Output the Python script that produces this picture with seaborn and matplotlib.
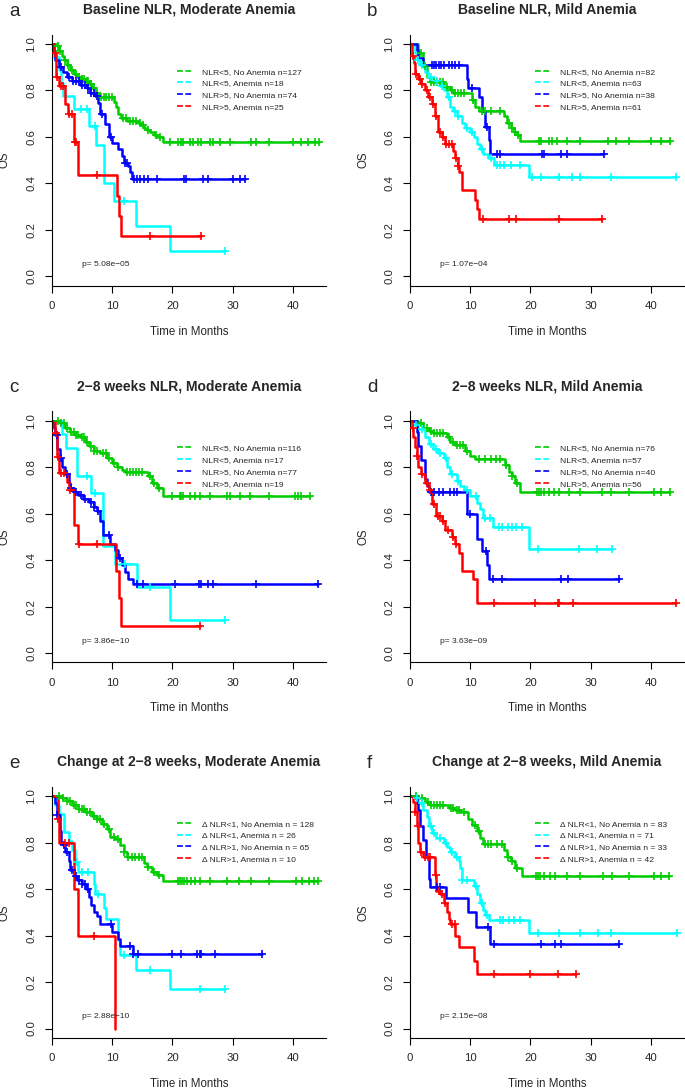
import numpy as np
import pandas as pd
import matplotlib
matplotlib.use("Agg")
import matplotlib.pyplot as plt
from matplotlib.lines import Line2D
import seaborn as sns

# Kaplan-Meier curves: step times (months), survival after each step, censor times.
# g = NLR low / no anemia, c = NLR low / anemia, b = NLR high / no anemia, r = NLR high / anemia

# --- a: Baseline NLR, Moderate Anemia
a_g_time = [0.8, 1.2, 1.6, 2.0, 2.5, 3.0, 3.6, 4.2, 4.8, 5.5, 6.2, 6.7, 7.2, 7.8, 10.3, 10.7, 11.0, 11.4, 12.5, 14.3, 14.8, 15.3, 15.8, 16.3, 17.0, 17.5, 18.5]
a_g_surv = [0.99, 0.97, 0.95, 0.93, 0.91, 0.89, 0.87, 0.86, 0.85, 0.84, 0.83, 0.81, 0.79, 0.77, 0.75, 0.73, 0.70, 0.68, 0.67, 0.66, 0.65, 0.64, 0.63, 0.62, 0.61, 0.60, 0.578]
a_g_cens = [1.0, 1.4, 2.2, 2.7, 3.3, 4.0, 4.5, 5.0, 5.3, 5.8, 6.0, 6.4, 7.0, 7.5, 8.2, 8.6, 9.0, 9.5, 10.0, 11.8, 12.3, 13.0, 13.5, 14.0, 14.6, 15.1, 16.0, 17.2, 18.0,
            19.6, 21.0, 21.4, 21.8, 22.9, 23.4, 24.3, 24.7, 26.2, 26.8, 27.9, 29.5, 33.1, 33.9, 36.1, 40.0, 41.4, 42.5, 43.6, 44.3]
a_c_time = [0.3, 1.1, 1.5, 1.9, 3.6, 6.2, 7.3, 8.6, 10.3, 14.0, 19.6]
a_c_surv = [0.944, 0.889, 0.833, 0.778, 0.722, 0.647, 0.565, 0.404, 0.323, 0.215, 0.108]
a_c_cens = [4.8, 5.8, 7.1, 12.0, 28.7]
a_b_time = [0.3, 0.5, 1.1, 1.9, 2.5, 3.3, 4.7, 5.8, 6.3, 7.2, 7.7, 8.0, 8.8, 9.4, 9.9, 11.0, 11.6, 12.0, 12.7, 13.0, 13.3]
a_b_surv = [0.97, 0.93, 0.90, 0.88, 0.86, 0.84, 0.825, 0.81, 0.79, 0.775, 0.747, 0.70, 0.654, 0.60, 0.575, 0.55, 0.52, 0.49, 0.475, 0.45, 0.418]
a_b_cens = [1.5, 2.8, 3.5, 4.0, 4.5, 5.0, 5.5, 6.0, 6.5, 7.0, 7.5, 8.3, 9.8, 12.2, 12.5, 13.6, 14.1, 14.6, 15.2, 16.0, 17.4, 22.0, 22.2, 25.1, 25.9, 30.1, 31.2, 32.0]
a_r_time = [0.4, 0.7, 1.1, 2.2, 2.6, 3.6, 4.3, 10.8, 11.2, 11.5]
a_r_surv = [0.96, 0.86, 0.82, 0.74, 0.70, 0.58, 0.435, 0.348, 0.26, 0.174]
a_r_cens = [0.5, 0.9, 1.5, 1.8, 2.9, 3.3, 3.8, 4.0, 7.5, 16.3, 24.8]

# --- b: Baseline NLR, Mild Anemia
b_g_time = [1.4, 2.2, 2.9, 3.3, 5.6, 6.7, 7.2, 10.3, 10.8, 11.4, 15.6, 16.1, 16.7, 17.2, 17.8, 18.3]
b_g_surv = [0.96, 0.904, 0.86, 0.835, 0.815, 0.80, 0.79, 0.76, 0.73, 0.71, 0.69, 0.66, 0.64, 0.62, 0.61, 0.583]
b_g_cens = [1.8, 2.5, 3.5, 4.0, 4.5, 5.0, 5.5, 6.2, 7.0, 7.5, 8.0, 8.5, 9.0, 10.5, 12.0, 12.5, 13.5, 15.0, 16.5, 17.0, 17.5, 18.0,
            21.4, 21.7, 23.1, 23.6, 24.4, 26.1, 28.3, 32.8, 34.2, 36.4, 40.0, 41.7, 43.1]
b_c_time = [0.8, 1.1, 1.7, 2.5, 3.0, 3.9, 5.0, 5.6, 6.1, 6.7, 7.2, 7.8, 8.6, 9.2, 10.0, 10.6, 11.1, 11.7, 12.2, 13.0, 13.9, 19.7]
b_c_surv = [0.96, 0.93, 0.91, 0.88, 0.86, 0.84, 0.82, 0.80, 0.77, 0.73, 0.71, 0.69, 0.66, 0.64, 0.62, 0.60, 0.57, 0.55, 0.525, 0.51, 0.48, 0.428]
b_c_cens = [1.3, 2.0, 3.5, 4.5, 5.3, 6.5, 7.5, 8.0, 9.5, 10.3, 12.0, 13.5, 14.4, 15.0, 15.6, 16.7, 18.3, 20.3, 21.7, 24.7, 26.9, 28.3, 33.3, 44.2]
b_b_time = [1.1, 1.4, 2.2, 9.4, 9.7, 11.4, 11.9, 12.5, 13.1, 13.3]
b_b_surv = [0.974, 0.94, 0.91, 0.85, 0.81, 0.77, 0.71, 0.645, 0.585, 0.525]
b_b_cens = [3.6, 4.0, 4.4, 4.8, 5.1, 5.6, 6.4, 7.0, 7.5, 8.1, 10.3, 12.8, 14.4, 15.0, 21.9, 22.2, 25.0, 26.1, 32.2]
b_r_time = [0.3, 0.6, 0.9, 1.4, 1.9, 2.5, 3.0, 3.6, 4.2, 4.7, 5.3, 5.8, 7.2, 7.5, 7.9, 8.2, 8.6, 10.8, 11.2, 11.4]
b_r_surv = [0.95, 0.92, 0.87, 0.85, 0.83, 0.80, 0.77, 0.74, 0.69, 0.62, 0.60, 0.57, 0.54, 0.51, 0.475, 0.45, 0.37, 0.33, 0.29, 0.248]
b_r_cens = [0.5, 1.0, 1.6, 2.0, 2.8, 3.3, 3.8, 4.4, 5.0, 5.5, 6.0, 6.5, 7.0, 7.6, 8.0, 12.1, 16.4, 17.6, 24.8, 31.9]

# --- c: 2-8 weeks NLR, Moderate Anemia
c_g_time = [1.4, 2.2, 3.0, 3.9, 4.7, 5.5, 6.1, 6.9, 8.0, 9.1, 9.9, 10.8, 11.6, 12.1, 16.0, 16.6, 17.4, 18.4]
c_g_surv = [0.99, 0.97, 0.95, 0.94, 0.93, 0.91, 0.89, 0.87, 0.86, 0.84, 0.82, 0.80, 0.79, 0.78, 0.76, 0.73, 0.71, 0.675]
c_g_cens = [1.0, 1.5, 2.0, 2.5, 3.2, 3.6, 4.0, 4.4, 5.0, 5.3, 5.8, 6.5, 7.0, 7.5, 8.5, 9.0, 9.5, 10.3, 11.0, 12.5, 13.0, 13.5, 14.0, 14.5, 15.0, 16.3, 17.0, 17.8,
            19.9, 21.2, 21.5, 21.8, 22.9, 23.7, 24.6, 26.2, 29.0, 29.5, 31.2, 32.8, 36.1, 40.3, 40.8, 41.4, 42.8]
c_c_time = [1.6, 2.3, 4.2, 6.4, 8.4, 10.5, 14.1, 19.6]
c_c_surv = [0.941, 0.882, 0.76, 0.69, 0.46, 0.385, 0.285, 0.143]
c_c_cens = [5.8, 7.2, 12.1, 16.3, 28.7]
c_b_time = [0.3, 0.55, 0.9, 1.3, 1.7, 2.2, 2.8, 3.0, 3.6, 4.4, 5.2, 6.1, 6.9, 7.4, 8.0, 8.5, 9.7, 10.5, 11.0, 11.6, 12.1, 12.7, 13.4]
c_b_surv = [0.97, 0.94, 0.88, 0.84, 0.80, 0.77, 0.73, 0.71, 0.695, 0.68, 0.665, 0.65, 0.63, 0.61, 0.57, 0.51, 0.47, 0.445, 0.41, 0.38, 0.35, 0.32, 0.298]
c_b_cens = [0.8, 1.5, 2.5, 3.2, 4.0, 4.8, 5.5, 6.5, 7.0, 7.7, 9.5, 11.3, 14.1, 15.1, 20.4, 24.4, 24.7, 25.9, 26.8, 33.9, 44.1]
c_r_time = [0.5, 0.8, 1.1, 2.5, 2.8, 3.6, 4.3, 10.6, 11.1, 11.4]
c_r_surv = [0.947, 0.842, 0.774, 0.737, 0.70, 0.55, 0.47, 0.354, 0.236, 0.118]
c_r_cens = [0.6, 1.0, 1.5, 2.0, 3.0, 4.5, 7.4, 24.6]

# --- d: 2-8 weeks NLR, Mild Anemia
d_g_time = [1.4, 2.2, 3.1, 3.9, 6.1, 6.7, 7.5, 9.2, 10.0, 10.8, 15.8, 16.4, 16.9, 17.5, 18.3]
d_g_surv = [0.99, 0.97, 0.955, 0.945, 0.93, 0.91, 0.895, 0.87, 0.85, 0.835, 0.81, 0.78, 0.76, 0.73, 0.695]
d_g_cens = [1.8, 2.8, 3.5, 4.0, 4.5, 5.0, 5.5, 6.5, 7.2, 7.8, 8.3, 8.8, 9.5, 11.5, 12.5, 13.5, 14.3, 15.0, 16.0, 17.0, 17.8,
            21.1, 21.4, 21.7, 22.2, 23.1, 23.9, 24.7, 26.4, 28.3, 31.9, 33.3, 36.4, 40.6, 41.7, 43.1]
d_c_time = [0.8, 1.4, 2.5, 3.1, 3.9, 4.7, 5.6, 6.1, 6.7, 7.8, 8.3, 8.9, 10.0, 11.1, 11.7, 12.2, 13.8, 19.7]
d_c_surv = [0.98, 0.965, 0.93, 0.90, 0.88, 0.86, 0.84, 0.80, 0.77, 0.74, 0.72, 0.70, 0.675, 0.645, 0.62, 0.58, 0.543, 0.45]
d_c_cens = [1.0, 2.0, 3.5, 4.3, 5.0, 6.0, 7.0, 8.0, 9.5, 11.0, 12.5, 13.3, 14.8, 15.2, 16.2, 17.0, 17.6, 18.6, 21.2, 28.0, 31.0, 33.6]
d_b_time = [1.1, 1.4, 1.9, 2.5, 2.9, 3.1, 9.4, 11.1, 11.9, 12.8, 13.2]
d_b_surv = [0.95, 0.89, 0.83, 0.75, 0.72, 0.695, 0.60, 0.49, 0.44, 0.38, 0.32]
d_b_cens = [3.5, 4.0, 4.8, 5.5, 6.6, 7.3, 7.8, 10.0, 12.7, 13.7, 15.2, 25.0, 26.2, 34.7]
d_r_time = [0.3, 0.55, 0.8, 1.1, 1.4, 1.9, 2.5, 3.1, 3.6, 4.4, 5.3, 5.8, 6.9, 7.5, 8.2, 8.6, 10.4, 11.2]
d_r_surv = [0.97, 0.93, 0.885, 0.85, 0.80, 0.77, 0.73, 0.70, 0.64, 0.59, 0.57, 0.53, 0.50, 0.47, 0.43, 0.355, 0.32, 0.215]
d_r_cens = [0.5, 1.2, 2.0, 2.8, 3.3, 4.0, 4.7, 5.0, 5.5, 6.3, 7.2, 7.7, 14.0, 20.8, 24.6, 24.7, 27.0, 44.2]

# --- e: Change at 2-8 weeks, Moderate Anemia
e_g_time = [1.7, 2.5, 3.3, 4.4, 5.5, 6.6, 7.4, 8.3, 9.1, 9.7, 10.5, 11.3, 11.9, 12.4, 15.2, 15.7, 16.6, 17.4, 18.4]
e_g_surv = [0.99, 0.98, 0.96, 0.945, 0.93, 0.915, 0.90, 0.88, 0.86, 0.825, 0.815, 0.79, 0.76, 0.74, 0.71, 0.695, 0.675, 0.66, 0.633]
e_g_cens = [1.2, 1.8, 2.5, 3.0, 3.6, 4.0, 4.5, 5.0, 5.3, 5.8, 6.3, 7.0, 7.5, 8.0, 8.6, 9.5, 10.3, 11.0, 12.0, 12.7, 13.3, 13.8, 14.5, 15.0, 16.0, 17.0, 17.8,
            21.0, 21.3, 21.6, 22.0, 22.5, 23.0, 23.8, 24.6, 26.3, 29.0, 31.0, 33.0, 36.0, 40.5, 41.5, 42.6, 43.5, 44.1]
e_c_time = [0.5, 1.2, 2.0, 2.8, 3.3, 3.9, 4.3, 6.9, 7.1, 8.7, 9.0, 11.0, 11.3, 14.0, 19.6]
e_c_surv = [0.962, 0.923, 0.846, 0.808, 0.77, 0.715, 0.673, 0.62, 0.58, 0.52, 0.473, 0.38, 0.315, 0.25, 0.168]
e_c_cens = [4.1, 5.0, 5.9, 7.6, 12.0, 16.3, 24.6, 28.7]
e_b_time = [0.55, 0.8, 1.3, 1.5, 1.9, 2.2, 2.8, 3.0, 3.7, 4.1, 5.0, 5.7, 6.1, 6.5, 6.9, 7.4, 8.0, 9.9, 11.0, 11.3, 13.4]
e_b_surv = [0.97, 0.92, 0.85, 0.80, 0.79, 0.76, 0.72, 0.68, 0.655, 0.64, 0.62, 0.60, 0.565, 0.53, 0.50, 0.485, 0.45, 0.415, 0.385, 0.355, 0.32]
e_b_cens = [0.9, 2.0, 2.5, 3.3, 4.0, 4.5, 5.0, 5.4, 6.0, 9.8, 13.0, 13.5, 14.2, 20.0, 21.5, 24.0, 24.5, 24.8, 27.0, 34.8]
e_r_time = [1.0, 1.1, 3.6, 4.3, 10.5]
e_r_surv = [0.9, 0.8, 0.6, 0.4, 0.0]
e_r_cens = [1.05, 2.2, 2.8, 6.9]

# --- f: Change at 2-8 weeks, Mild Anemia
f_g_time = [1.4, 2.5, 3.3, 6.4, 7.5, 8.3, 9.7, 10.3, 11.1, 11.7, 12.2, 15.6, 16.1, 16.7, 17.5, 18.6]
f_g_surv = [0.99, 0.975, 0.96, 0.95, 0.94, 0.93, 0.90, 0.875, 0.85, 0.82, 0.795, 0.77, 0.74, 0.72, 0.69, 0.655]
f_g_cens = [1.0, 2.0, 3.0, 3.5, 4.0, 4.5, 5.0, 5.5, 6.8, 7.2, 7.8, 8.2, 9.0, 10.8, 11.5, 12.5, 13.0, 13.5, 14.5, 15.2, 16.3, 17.0, 17.8,
            21.0, 21.3, 21.6, 22.3, 23.2, 24.0, 26.0, 28.2, 32.0, 33.5, 36.3, 40.5, 41.6, 43.0]
f_c_time = [0.8, 1.4, 2.2, 2.8, 3.2, 3.6, 4.4, 5.6, 6.1, 6.7, 7.5, 8.1, 8.3, 8.6, 10.6, 11.1, 11.7, 12.1, 12.5, 13.1, 19.7]
f_c_surv = [0.99, 0.97, 0.94, 0.91, 0.87, 0.84, 0.82, 0.80, 0.78, 0.76, 0.74, 0.72, 0.69, 0.64, 0.615, 0.58, 0.54, 0.51, 0.49, 0.465, 0.41]
f_c_cens = [1.2, 2.0, 3.5, 4.0, 5.0, 6.0, 7.0, 7.8, 8.6, 9.5, 11.0, 12.0, 12.8, 15.0, 15.5, 16.5, 17.3, 18.3, 21.3, 24.8, 28.2, 31.2, 33.3, 44.4]
f_b_time = [1.1, 1.4, 1.7, 2.2, 2.7, 3.2, 3.4, 6.0, 9.7, 11.0, 13.3]
f_b_surv = [0.97, 0.94, 0.87, 0.81, 0.74, 0.645, 0.61, 0.56, 0.50, 0.435, 0.362]
f_b_cens = [4.5, 5.0, 13.0, 14.0, 21.7, 24.0, 25.0, 34.7]
f_r_time = [0.55, 0.8, 1.1, 1.4, 1.7, 2.2, 4.2, 4.4, 5.0, 5.6, 6.1, 6.4, 6.7, 7.5, 8.1, 10.6, 11.1]
f_r_surv = [0.975, 0.93, 0.87, 0.80, 0.76, 0.74, 0.66, 0.59, 0.58, 0.54, 0.50, 0.47, 0.45, 0.40, 0.35, 0.29, 0.233]
f_r_cens = [0.8, 1.3, 1.8, 2.5, 3.0, 3.3, 4.3, 4.8, 5.3, 5.8, 7.0, 7.4, 13.9, 20.0, 24.5, 27.5]

letters = ["a", "b", "c", "d", "e", "f"]
titles = ["Baseline NLR, Moderate Anemia", "Baseline NLR, Mild Anemia",
          "2\u22128 weeks NLR, Moderate Anemia", "2\u22128 weeks NLR, Mild Anemia",
          "Change at 2\u22128 weeks, Moderate Anemia", "Change at 2\u22128 weeks, Mild Anemia"]
p_values = ["5.08e\u221205", "1.07e\u221204", "3.86e\u221210", "3.63e\u221209", "2.88e\u221210", "2.15e\u221208"]
group_n = [[127, 18, 74, 25], [82, 63, 38, 61], [116, 17, 77, 19], [76, 57, 40, 56], [128, 26, 65, 10], [83, 71, 33, 42]]
nlr_groups = ["NLR<5, No Anemia", "NLR<5, Anemia", "NLR>5, No Anemia", "NLR>5, Anemia"]
delta_groups = ["\u0394 NLR<1, No Anemia", "\u0394 NLR<1, Anemia", "\u0394 NLR>1, No Anemia", "\u0394 NLR>1, Anemia"]

curves = {
    "a": [(a_g_time, a_g_surv, a_g_cens), (a_c_time, a_c_surv, a_c_cens), (a_b_time, a_b_surv, a_b_cens), (a_r_time, a_r_surv, a_r_cens)],
    "b": [(b_g_time, b_g_surv, b_g_cens), (b_c_time, b_c_surv, b_c_cens), (b_b_time, b_b_surv, b_b_cens), (b_r_time, b_r_surv, b_r_cens)],
    "c": [(c_g_time, c_g_surv, c_g_cens), (c_c_time, c_c_surv, c_c_cens), (c_b_time, c_b_surv, c_b_cens), (c_r_time, c_r_surv, c_r_cens)],
    "d": [(d_g_time, d_g_surv, d_g_cens), (d_c_time, d_c_surv, d_c_cens), (d_b_time, d_b_surv, d_b_cens), (d_r_time, d_r_surv, d_r_cens)],
    "e": [(e_g_time, e_g_surv, e_g_cens), (e_c_time, e_c_surv, e_c_cens), (e_b_time, e_b_surv, e_b_cens), (e_r_time, e_r_surv, e_r_cens)],
    "f": [(f_g_time, f_g_surv, f_g_cens), (f_c_time, f_c_surv, f_c_cens), (f_b_time, f_b_surv, f_b_cens), (f_r_time, f_r_surv, f_r_cens)],
}

colors = ["#00CD00", "#00FFFF", "#0000FF", "#FF0000"]
keys = ["g", "c", "b", "r"]
palette = dict(zip(keys, colors))

sns.set_theme(style="ticks")
plt.rcParams["font.family"] = ["Liberation Sans", "DejaVu Sans"]
plt.rcParams["axes.linewidth"] = 0.8

W, H = 685, 1089
fig = plt.figure(figsize=(W / 100, H / 100), dpi=100)
fig.patch.set_facecolor("white")

col_left = [52, 410]
row_top = [34.7, 411.4, 786.8]
ax_w, ax_h = 274, 251


def step_path(times, survs, cens):
    end = max(times[-1], max(cens))
    t = [0.0] + list(times)
    s = [1.0] + list(survs)
    if end > times[-1]:
        t.append(end)
        s.append(survs[-1])
    return t, s


def surv_at(times, survs, x):
    idx = np.searchsorted(np.asarray(times), x, side="right") - 1
    return 1.0 if idx < 0 else survs[idx]


for i, letter in enumerate(letters):
    r, c = divmod(i, 2)
    left = col_left[c]
    top = row_top[r]
    ax = fig.add_axes([left / W, 1 - (top + ax_h) / H, ax_w / W, ax_h / H])

    line_rows = []
    mark_rows = []
    for key, (times, survs, cens) in zip(keys, curves[letter]):
        t, s = step_path(times, survs, cens)
        line_rows += [{"time": tt, "surv": ss, "grp": key} for tt, ss in zip(t, s)]
        mark_rows += [{"time": x, "surv": surv_at(times, survs, x), "grp": key} for x in cens]
    lines = pd.DataFrame(line_rows)
    marks = pd.DataFrame(mark_rows)

    sns.lineplot(data=lines, x="time", y="surv", hue="grp", hue_order=keys, palette=palette,
                 estimator=None, sort=False, drawstyle="steps-post", lw=1.8, legend=False, ax=ax)
    for key in keys:
        sub = marks[marks["grp"] == key]
        sns.scatterplot(data=sub, x="time", y="surv", color=palette[key], marker="+",
                        s=32, linewidth=1.2, legend=False, ax=ax, zorder=3)

    ax.set_xlim(0, 45.5)
    ax.set_ylim(-0.04, 1.04)
    ax.set_xticks([0, 10, 20, 30, 40])
    ax.set_yticks([0, 0.2, 0.4, 0.6, 0.8, 1.0])
    ax.set_yticklabels(["0.0", "0.2", "0.4", "0.6", "0.8", "1.0"])
    ax.tick_params(axis="both", direction="out", length=5, width=0.8, labelsize=8.2, color="black")
    ax.tick_params(axis="x", pad=6)
    ax.tick_params(axis="y", pad=6.5)
    for lab in ax.get_yticklabels():
        lab.set_rotation(90)
        lab.set_va("center")
        lab.set_ha("right")
    sns.despine(ax=ax)
    for sp in ["left", "bottom"]:
        ax.spines[sp].set_color("black")

    ax.set_xlabel("Time in Months", fontsize=8.3)
    ax.set_ylabel("OS", fontsize=8.3)
    ax.xaxis.set_label_coords(0.5, -40 / ax_h)
    ax.yaxis.set_label_coords(-41 / ax_w, 0.5)
    ax.set_title(titles[i], fontsize=10, fontweight="bold", pad=15)

    ax.text(5.0, 0.05, "p= " + p_values[i], fontsize=6, ha="left", va="center")

    groups = delta_groups if letter in ("e", "f") else nlr_groups
    sep = " n = " if letter in ("e", "f") else " n="
    labels = [g + sep + str(n) for g, n in zip(groups, group_n[i])]
    handles = [Line2D([0], [0], color=col, lw=1.2, linestyle=(0, (3.5, 1.5))) for col in colors]
    ax.legend(handles, labels, loc="upper left", bbox_to_anchor=(125 / ax_w, 1 - 33 / ax_h),
              frameon=False, fontsize=6.1, handlelength=1.8, handletextpad=1.1,
              labelspacing=0.45, borderpad=0, borderaxespad=0)

    fig.text((left - 43) / W, 1 - (top - 19) / H, letter, fontsize=13.5, ha="left", va="baseline")

fig.savefig("out.png", dpi=100, facecolor="white")
